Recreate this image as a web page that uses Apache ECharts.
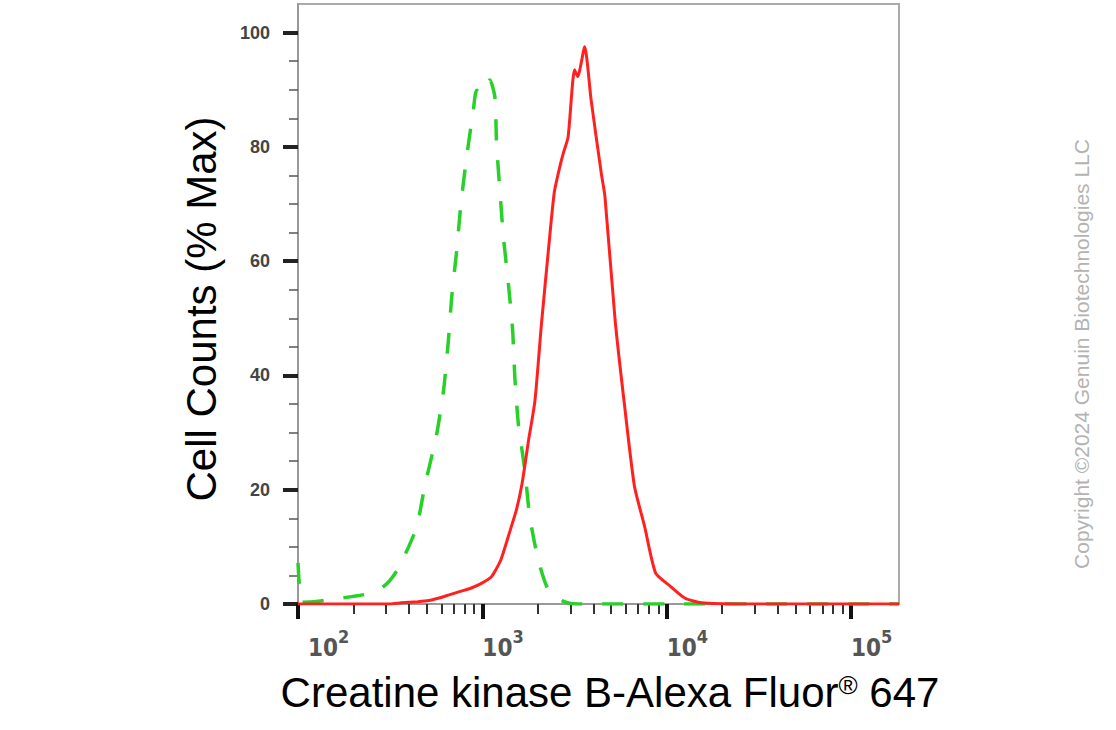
<!DOCTYPE html>
<html>
<head>
<meta charset="utf-8">
<script src="https://cdn.jsdelivr.net/npm/echarts@6/dist/echarts.min.js"></script>
<style>
html,body{margin:0;padding:0;background:#fff;}
#chart{width:1116px;height:730px;}
</style>
</head>
<body>
<div id="chart"></div>
<script>
// Fluorescence intensity as decade exponent (log10), counts as % of max
const redX = [2.00, 2.30, 2.50, 2.56, 2.65, 2.71, 2.76, 2.82, 2.88, 2.94, 3.00, 3.05, 3.10, 3.15, 3.185, 3.215, 3.25, 3.285, 3.32, 3.36, 3.39, 3.42, 3.44, 3.465, 3.50, 3.517, 3.555, 3.59, 3.645, 3.665, 3.72, 3.77, 3.825, 3.88, 3.94, 4.02, 4.10, 4.19, 4.40, 4.70, 5.00, 5.26];
const redY = [0, 0, 0, 0.2, 0.4, 0.6, 1.0, 1.6, 2.2, 2.8, 3.7, 4.8, 7.7, 12.8, 16.5, 21.0, 28.5, 35.5, 48.8, 62.5, 72.0, 76.5, 79.0, 81.7, 93.5, 92.3, 97.5, 88.2, 75.4, 71.3, 49.7, 35.1, 20.6, 13.6, 5.4, 3.1, 1.0, 0.2, 0, 0, 0, 0];
const greenX = [2.00, 2.008, 2.02, 2.11, 2.20, 2.35, 2.44, 2.49, 2.54, 2.60, 2.645, 2.69, 2.75, 2.79, 2.816, 2.834, 2.861, 2.884, 2.915, 2.951, 2.969, 3.00, 3.041, 3.068, 3.077, 3.095, 3.114, 3.141, 3.164, 3.176, 3.195, 3.23, 3.257, 3.303, 3.357, 3.42, 3.48, 3.60, 4.00, 4.50, 5.00, 5.26];
const greenY = [7.2, 3.0, 0.3, 0.5, 0.9, 1.6, 2.5, 3.8, 6.0, 10.0, 13.6, 21.0, 29.3, 37.5, 46.2, 53.8, 61.9, 70.1, 78.3, 86.4, 89.9, 89.3, 91.7, 88.7, 80.6, 72.4, 64.3, 56.1, 48.0, 39.8, 31.6, 23.5, 15.3, 7.7, 2.5, 0.75, 0.1, 0, 0, 0, 0, 0];
const xMajor = [2, 3, 4, 5];
const xMinorMult = [2, 3, 4, 5, 6, 7, 8, 9];
const yMajor = [0, 20, 40, 60, 80, 100];
const yMinor = [5, 10, 15, 25, 30, 35, 45, 50, 55, 65, 70, 75, 85, 90, 95];
const xTitle = 'Creatine kinase B-Alexa Fluor';
const xTitleTail = ' 647';
const yTitle = 'Cell Counts (% Max)';
const copyright = 'Copyright \u00a92024 Genuin Biotechnologies LLC';

const X_MIN = 2, X_MAX = 5.26, Y_MAX = 105;
const xMinor = [];
for (const d of [2, 3, 4, 5]) for (const m of xMinorMult) { const v = d + Math.log10(m); if (v < X_MAX) xMinor.push(v); }

const chart = echarts.init(document.getElementById('chart'), null, {renderer: 'svg'});
const tickFont = '"Liberation Sans Narrow","DejaVu Sans Condensed","Liberation Sans",Arial,sans-serif';
const mainFont = '"Liberation Sans",Arial,Helvetica,sans-serif';

chart.setOption({
  animation: false,
  backgroundColor: '#fff',
  grid: {left: 298, right: 217, top: 4, bottom: 126, show: true, borderColor: '#ababab', borderWidth: 2, backgroundColor: 'transparent'},
  xAxis: [
    {type: 'value', min: X_MIN, max: X_MAX, position: 'bottom',
      axisLine: {show: true, lineStyle: {color: '#999', width: 2}},
      axisTick: {show: true, customValues: xMajor, length: 15, lineStyle: {color: '#111', width: 4}},
      axisLabel: {show: true, customValues: xMajor, margin: 23, align: 'left', verticalAlign: 'top',
        formatter: v => (v === 2 ? '{p|}' : '') + '{b|10}{s|' + v + '}',
        rich: {
          p: {width: 10, lineHeight: 33},
          b: {fontFamily: tickFont, fontSize: 24, fontWeight: 'bold', color: '#555', lineHeight: 33, verticalAlign: 'bottom'},
          s: {fontFamily: tickFont, fontSize: 18, fontWeight: 'bold', color: '#555', lineHeight: 33, verticalAlign: 'top'}
        }},
      splitLine: {show: false}},
    {type: 'value', min: X_MIN, max: X_MAX, position: 'bottom', gridIndex: 0,
      axisLine: {show: false},
      axisTick: {show: true, customValues: xMinor, length: 10, lineStyle: {color: '#333', width: 2}},
      axisLabel: {show: false}, splitLine: {show: false}}
  ],
  yAxis: [
    {type: 'value', min: 0, max: Y_MAX, position: 'left',
      axisLine: {show: true, lineStyle: {color: '#999', width: 2}},
      axisTick: {show: true, customValues: yMajor, length: 15, lineStyle: {color: '#222', width: 4}},
      axisLabel: {show: true, customValues: yMajor, margin: 28, fontFamily: mainFont, fontSize: 18, fontWeight: 'bold', color: '#444'},
      splitLine: {show: false}},
    {type: 'value', min: 0, max: Y_MAX, position: 'left', gridIndex: 0,
      axisLine: {show: false},
      axisTick: {show: true, customValues: yMinor, length: 9, lineStyle: {color: '#555', width: 1.5}},
      axisLabel: {show: false}, splitLine: {show: false}}
  ],
  series: [
    {type: 'line', name: 'Isotype', xAxisIndex: 0, yAxisIndex: 0, showSymbol: false, smooth: 0.2,
      data: greenX.map((x, i) => [x, greenY[i]]),
      lineStyle: {color: '#2ad02a', width: 3.5, type: [21, 20]}, z: 3},
    {type: 'line', name: 'Creatine kinase B', xAxisIndex: 0, yAxisIndex: 0, showSymbol: false, smooth: 0.2,
      data: redX.map((x, i) => [x, redY[i]]),
      lineStyle: {color: '#ff2020', width: 3}, z: 4}
  ],
  graphic: [
    {type: 'text', x: 201, y: 309, rotation: Math.PI / 2,
      style: {text: yTitle, font: '42px ' + mainFont, fill: '#000', align: 'center', verticalAlign: 'middle', textAlign: 'center', textVerticalAlign: 'middle'}},
    {type: 'text', x: 610, y: 692,
      style: {text: xTitle + '{r|\u00ae}' + xTitleTail, font: '42px ' + mainFont, fill: '#000', align: 'center', verticalAlign: 'middle', textAlign: 'center', textVerticalAlign: 'middle',
        rich: {r: {fontSize: 26, fontFamily: mainFont, fill: '#000', color: '#000', padding: [0, 0, 14, 0]}}}},
    {type: 'text', x: 1081, y: 354, rotation: Math.PI / 2,
      style: {text: copyright, font: '21px ' + mainFont, fill: '#b3b3b3', align: 'center', verticalAlign: 'middle', textAlign: 'center', textVerticalAlign: 'middle'}}
  ]
});
</script>
</body>
</html>
